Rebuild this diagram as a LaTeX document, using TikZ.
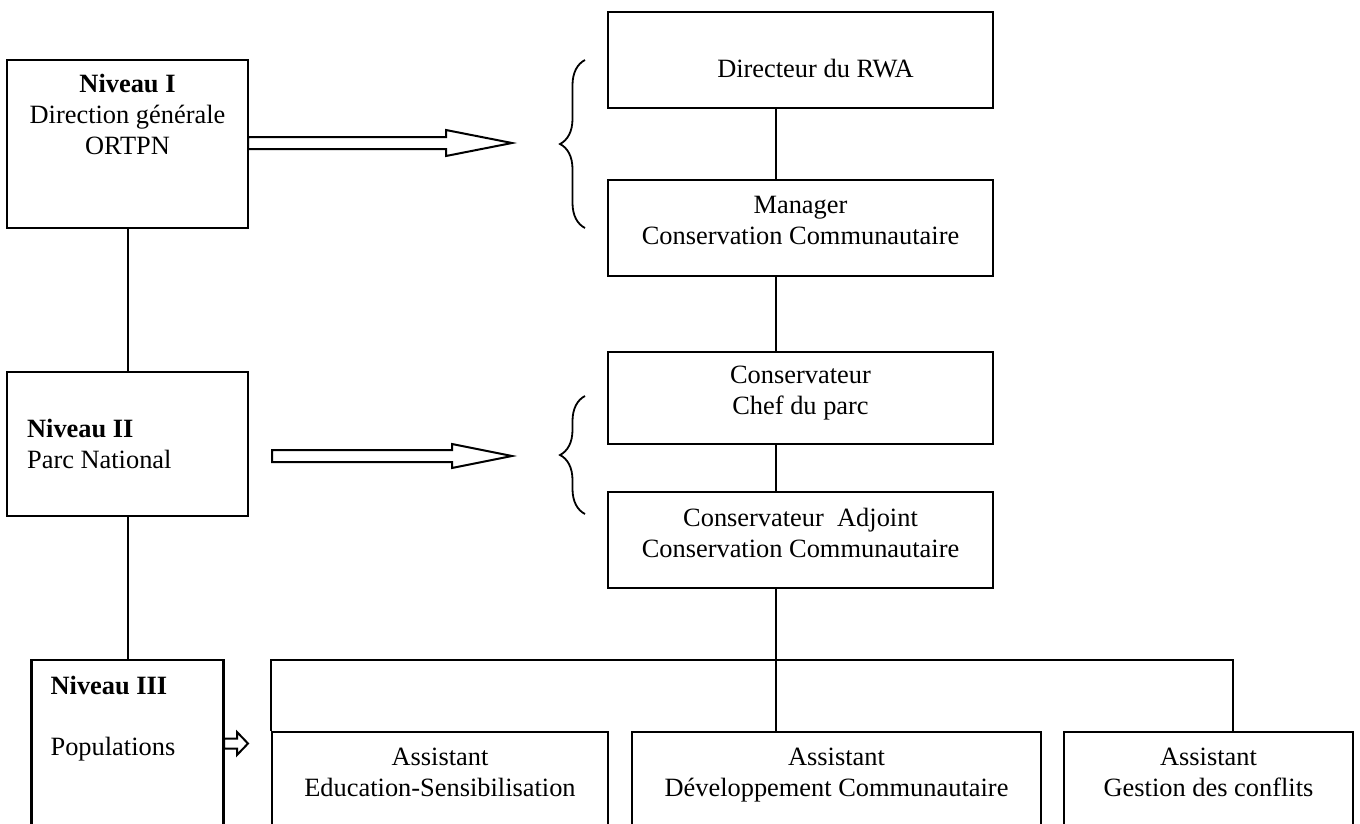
\documentclass[tikz,border=0pt]{standalone}
\usepackage{fontspec}
\setmainfont{Liberation Serif}
\usetikzlibrary{positioning,decorations.pathreplacing}

\tikzset{
    box/.style={draw, rectangle, line width=2.2pt, inner sep=0pt},
    txt/.style={align=center, inner sep=0pt},
    link/.style={line width=2pt},
    curly/.style={decorate, decoration={brace, amplitude=25pt}, line width=1.8pt},
    hollow/.style={line width=2pt, line join=miter},
}

\begin{document}
\begin{tikzpicture}[x=1pt, y=-1pt, font=\fontsize{26.4}{31}\selectfont]
        \useasboundingbox (0,0) rectangle (1360,823);
        \clip (0,0) rectangle (1360,823);
        % niveaux
        \node[box, minimum width=241, minimum height=168] (N1) at (127.5,144) {};
        \node[box, minimum width=241, minimum height=144] (N2) at (127.5,444) {};
        \node[box, minimum width=192, minimum height=200] (N3) at (127.5,760) {};
        \node[txt, below=15pt of N1.north] (N1t) {\textbf{Niveau I}\\Direction générale\\ORTPN};
        \node[txt, align=left, anchor=north west] (N2t) at ([xshift=21pt,yshift=-48pt]N2.north west) {\textbf{Niveau II}\\Parc National};
        \node[txt, align=left, anchor=north west] (N3t) at ([xshift=20pt,yshift=-17pt]N3.north west) {\textbf{Niveau III}\\[30pt]Populations};
        % organigramme
        \node[box, minimum width=385, minimum height=96] (D) at (800.5,60) {};
        \node[box, minimum width=385, minimum height=96] (M) at (800.5,228) {};
        \node[box, minimum width=385, minimum height=92] (C) at (800.5,398) {};
        \node[box, minimum width=385, minimum height=96] (A) at (800.5,540) {};
        \node[txt, below=48pt of D.north, xshift=15pt] (Dt) {Directeur du RWA};
        \node[txt, below=17pt of M.north] (Mt) {Manager\\Conservation Communautaire};
        \node[txt, below=15pt of C.north] (Ct) {Conservateur\\Chef du parc};
        \node[txt, below=17pt of A.north] (At) {Conservateur\ \ Adjoint\\Conservation Communautaire};
        \node[box, minimum width=336, minimum height=136] (E) at (440,800) {};
        \node[box, minimum width=409, minimum height=136] (V) at (836.5,800) {};
        \node[box, minimum width=289, minimum height=136] (G) at (1208.5,800) {};
        \foreach \b/\t in {E/Education-Sensibilisation, V/Développement Communautaire, G/Gestion des conflits} {
            \node[txt, below=17pt of \b.north] (\b t) {Assistant\\\t};
        }
        % liaisons
        \draw[link] (N1.south) -- (N2.north);
        \draw[link] (N2.south) -- (N3.north);
        \coordinate (S) at (776,0);
        \draw[link] (D.south -| S) -- (M.north -| S);
        \draw[link] (M.south -| S) -- (C.north -| S);
        \draw[link] (C.south -| S) -- (A.north -| S);
        \draw[link] (A.south -| S) -- (V.north -| S);
        \coordinate (BR) at (1233,660);
        \coordinate (BL) at (E.north west |- BR);
        \draw[link] (E.north west) -- (BL) -- (BR) -- (BR |- G.north);
        % accolades
        \draw[curly] (585,228) -- (585,60);
        \draw[curly] (585,514) -- (585,396);
        % fleches creuses
        \foreach \xa/\xb/\xc/\yc/\s/\h in {248/446/512/143/6/13, 272/452/512/456/6/12, 224/237/248/743.5/5/11.5} {
            \draw[hollow] (\xa,\yc-\s) -- (\xb,\yc-\s) -- (\xb,\yc-\h) -- (\xc,\yc) -- (\xb,\yc+\h) -- (\xb,\yc+\s) -- (\xa,\yc+\s) -- cycle;
        }
    \end{tikzpicture}
\end{document}
